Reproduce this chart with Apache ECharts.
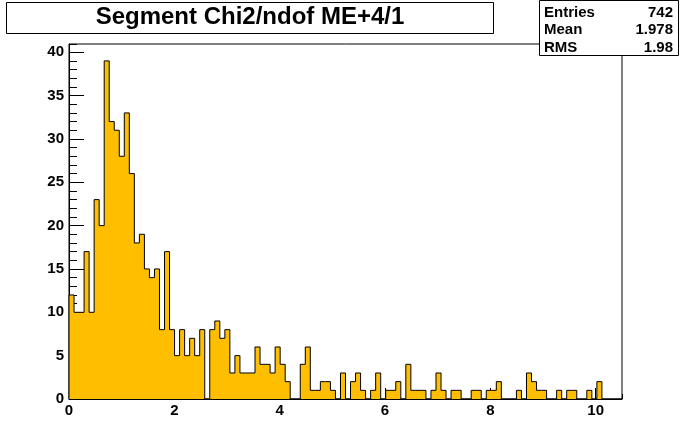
<!DOCTYPE html>
<html>
<head>
<meta charset="utf-8">
<script src="https://cdn.jsdelivr.net/npm/echarts@6/dist/echarts.min.js"></script>
<style>
  html, body { margin: 0; padding: 0; background: #fff; }
  #chart { width: 692px; height: 444px; }
</style>
</head>
<body>
<div id="chart"></div>
<script>
// histogram: 110 bins between xMin and xMax
var xMin = 0;
var xMax = 10.5;
var binCounts = [
  12, 10, 10, 17, 10, 23, 20, 39, 32, 31,
  28, 33, 26, 18, 19, 15, 14, 15, 8, 17,
  8, 5, 8, 5, 7, 5, 8, 0, 8, 9,
  7, 8, 3, 5, 3, 3, 3, 6, 4, 4,
  3, 6, 4, 2, 0, 0, 4, 6, 1, 1,
  2, 2, 1, 0, 3, 0, 2, 3, 1, 0,
  1, 3, 0, 1, 1, 2, 0, 4, 1, 1,
  1, 0, 1, 3, 1, 0, 1, 1, 0, 0,
  1, 1, 0, 1, 1, 2, 0, 0, 0, 1,
  0, 3, 2, 1, 1, 0, 0, 1, 0, 1,
  1, 0, 0, 1, 0, 2, 0, 0, 0, 0
];
var yMax = 40.95;
var xTickLabels = [0, 2, 4, 6, 8, 10];
var yTickLabels = [0, 5, 10, 15, 20, 25, 30, 35, 40];

var titleText = 'Segment Chi2/ndof ME+4/1';
var statNames = ['Entries', 'Mean', 'RMS'];
var statValues = ['742', '1.978', '1.98'];

var font = 'Liberation Sans, Arial, Helvetica, sans-serif';
var fillColor = '#FFBF00';

// outline of the histogram, one flat step per bin
var binWidth = (xMax - xMin) / binCounts.length;
var steps = [[xMin, 0]];
for (var i = 0; i < binCounts.length; i++) {
  var lo = xMin + i * binWidth;
  steps.push([lo, binCounts[i]]);
  steps.push([lo + binWidth, binCounts[i]]);
}
steps.push([xMax, 0]);

var labelStyle = { color: '#000', fontFamily: font, fontWeight: 'bold', fontSize: 15 };

// stats box texts
var statGraphics = [];
for (var k = 0; k < statNames.length; k++) {
  statGraphics.push({
    type: 'text', z: 101, x: 544, y: 5 + k * 17.5,
    style: { text: statNames[k], fill: '#000', font: 'bold 15px ' + font, textAlign: 'left' }
  });
  statGraphics.push({
    type: 'text', z: 101, x: 673, y: 5 + k * 17.5,
    style: { text: statValues[k], fill: '#000', font: 'bold 15px ' + font, textAlign: 'right' }
  });
}

var chart = echarts.init(document.getElementById('chart'), null, { renderer: 'canvas' });
chart.setOption({
  animation: false,
  backgroundColor: '#fff',
  grid: {
    left: 69, top: 44, width: 553, height: 355,
    show: true, borderColor: '#000', borderWidth: 1, backgroundColor: 'transparent'
  },
  xAxis: [{
    type: 'value', min: xMin, max: xMax, interval: 2,
    axisLine: { show: true, lineStyle: { color: '#000', width: 1 } },
    axisTick: { show: true, inside: true, length: 11, lineStyle: { color: '#000' } },
    axisLabel: Object.assign({ margin: 4, showMaxLabel: false,
      formatter: function (v) { return xTickLabels.indexOf(v) > -1 ? String(v) : ''; } }, labelStyle),
    splitLine: { show: false }
  }, {
    type: 'value', min: xMin, max: xMax, interval: 1, position: 'bottom',
    axisLine: { show: false },
    axisTick: { show: true, inside: true, length: 5, lineStyle: { color: '#000' } },
    axisLabel: { show: false },
    splitLine: { show: false }
  }],
  yAxis: [{
    type: 'value', min: 0, max: yMax, interval: 5,
    axisLine: { show: true, lineStyle: { color: '#000', width: 1 } },
    axisTick: { show: true, inside: true, length: 15, lineStyle: { color: '#000' } },
    axisLabel: Object.assign({ margin: 5, showMaxLabel: false,
      formatter: function (v) { return yTickLabels.indexOf(v) > -1 ? String(v) : ''; } }, labelStyle),
    splitLine: { show: false }
  }, {
    type: 'value', min: 0, max: yMax, interval: 1, position: 'left',
    axisLine: { show: false },
    axisTick: { show: true, inside: true, length: 8, lineStyle: { color: '#000' } },
    axisLabel: { show: false },
    splitLine: { show: false }
  }],
  series: [{
    type: 'line',
    data: steps,
    symbol: 'none',
    silent: true,
    lineStyle: { color: '#000', width: 1 },
    areaStyle: { color: fillColor, opacity: 1 },
    z: 1
  }],
  graphic: [{
    type: 'rect', z: 100,
    shape: { x: 6.5, y: 2.5, width: 487, height: 31 },
    style: { fill: '#fff', stroke: '#000', lineWidth: 1 }
  }, {
    type: 'text', z: 101, x: 250, y: 5,
    style: { text: titleText, fill: '#000', font: 'bold 24px ' + font, textAlign: 'center' }
  }, {
    type: 'rect', z: 100,
    shape: { x: 539.5, y: 0.5, width: 139, height: 55 },
    style: { fill: '#fff', stroke: '#000', lineWidth: 1 }
  }].concat(statGraphics)
});
</script>
</body>
</html>
